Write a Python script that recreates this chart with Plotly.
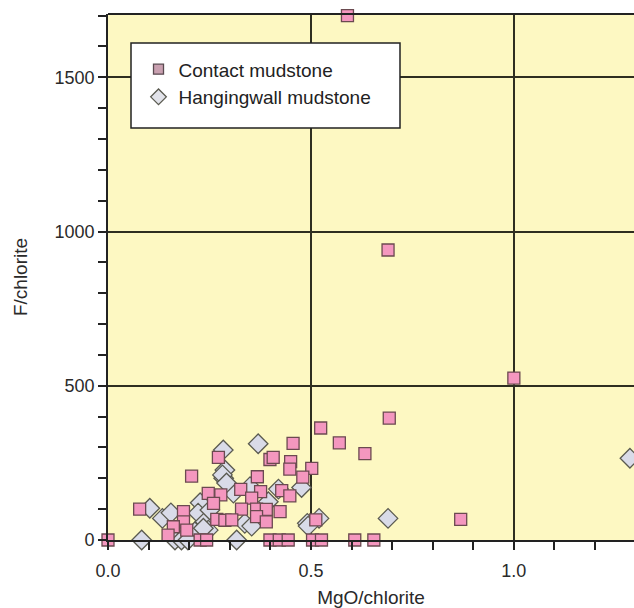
import plotly.graph_objects as go

# Contact mudstone (squares)
contact_x = [0.0, 0.59, 0.69, 1.0, 0.693, 0.524, 0.57, 0.633, 0.456, 0.399, 0.407,
             0.45, 0.448, 0.502, 0.48, 0.368, 0.272, 0.206, 0.327, 0.376, 0.428,
             0.448, 0.354, 0.278, 0.247, 0.26, 0.329, 0.366, 0.39, 0.424, 0.366,
             0.268, 0.288, 0.305, 0.39, 0.512, 0.869, 0.078, 0.186, 0.186, 0.161,
             0.148, 0.194, 0.227, 0.243, 0.399, 0.422, 0.444, 0.504, 0.526, 0.608,
             0.655]
contact_y = [0, 1700, 940, 525, 395, 363, 315, 280, 313, 261, 268,
             254, 230, 232, 204, 205, 268, 207, 164, 157, 160,
             143, 136, 146, 151, 119, 100, 100, 99, 92, 76,
             67, 64, 65, 59, 65, 67, 100, 92, 59, 43,
             16, 32, 0, 0, 0, 0, 0, 0, 0, 0,
             0]

# Hangingwall mudstone (diamonds)
hanging_x = [1.286, 0.69, 0.52, 0.491, 0.477, 0.37, 0.284, 0.288, 0.285, 0.309,
             0.35, 0.42, 0.395, 0.337, 0.354, 0.317, 0.083, 0.103, 0.134, 0.155,
             0.227, 0.222, 0.239, 0.247, 0.214, 0.165, 0.181, 0.197, 0.282, 0.292,
             0.251, 0.235, 0.493]
hanging_y = [265, 70, 70, 54, 170, 312, 292, 227, 200, 152,
             173, 165, 124, 54, 45, 0, 0, 103, 70, 88,
             121, 87, 59, 32, 27, 0, 0, 0, 211, 185,
             97, 38, 45]

x_ticks = [0.0, 0.5, 1.0]
x_ticklabels = ["0.0", "0.5", "1.0"]
y_ticks = [0, 500, 1000, 1500]

FONT = "Liberation Sans, Arial, sans-serif"

fig = go.Figure()
fig.add_trace(go.Scatter(
    x=hanging_x, y=hanging_y, mode="markers", name="Hangingwall mudstone",
    marker=dict(symbol="diamond", size=15, color="#d9dbe8",
                line=dict(color="#5a5a50", width=1.3)),
    cliponaxis=False, showlegend=False))
fig.add_trace(go.Scatter(
    x=contact_x, y=contact_y, mode="markers", name="Contact mudstone",
    marker=dict(symbol="square", size=12, color="#f497bf",
                line=dict(color="#6b4a50", width=1.3)),
    cliponaxis=False, showlegend=False))
# legend-only entries
fig.add_trace(go.Scatter(
    x=[None], y=[None], mode="markers", name="Contact mudstone",
    marker=dict(symbol="square", size=10, color="#c9a0b0",
                line=dict(color="#5a4a50", width=1.3))))
fig.add_trace(go.Scatter(
    x=[None], y=[None], mode="markers", name="Hangingwall mudstone",
    marker=dict(symbol="diamond", size=12, color="#e2e3ea",
                line=dict(color="#5a5a50", width=1.3))))

fig.update_layout(
    width=634, height=608,
    margin=dict(l=108, r=0, t=14, b=68),
    paper_bgcolor="white",
    plot_bgcolor="#fdf8c2",
    font=dict(family=FONT, size=18, color="#2a2a2a"),
    legend=dict(x=0.058, y=0.931, xanchor="left", yanchor="top",
                bgcolor="rgba(0,0,0,0)", borderwidth=0,
                font=dict(size=19, color="#222222"),
                itemsizing="trace", tracegroupgap=0),
    shapes=[dict(type="rect", xref="paper", yref="paper",
                 x0=(131-108)/526, x1=(400-108)/526,
                 y0=(540-128)/526, y1=(540-43)/526,
                 line=dict(color="#222222", width=1.5),
                 fillcolor="white", layer="above")],
)
fig.update_xaxes(
    range=[0, 1.296], tickvals=x_ticks, ticktext=x_ticklabels,
    showgrid=True, gridcolor="#2e2e20", gridwidth=1.8,
    zeroline=False, showline=True, linecolor="#222222", linewidth=1.8,
    ticks="outside", ticklen=8, tickcolor="#222222", tickwidth=1.5,
    ticklabelstandoff=5,
    minor=dict(dtick=0.1, tick0=0, ticks="outside", ticklen=8,
               tickcolor="#222222", tickwidth=1.5, showgrid=False),
    title=dict(text="MgO/chlorite", standoff=14, font=dict(size=19)),
    tickfont=dict(size=18),
)
fig.update_yaxes(
    range=[0, 1705], tickvals=y_ticks,
    showgrid=True, gridcolor="#2e2e20", gridwidth=1.8,
    zeroline=False, showline=True, linecolor="#222222", linewidth=1.8,
    ticks="outside", ticklen=8, tickcolor="#222222", tickwidth=1.5,
    minor=dict(dtick=100, tick0=0, ticks="outside", ticklen=8,
               tickcolor="#222222", tickwidth=1.5, showgrid=False),
    title=dict(text="F/chlorite", standoff=22, font=dict(size=19)),
    tickfont=dict(size=18),
)
# top frame line
fig.add_shape(type="line", xref="paper", yref="paper", x0=0, x1=1, y0=1, y1=1,
              line=dict(color="#222222", width=1.8))

fig.write_html("out.html")
